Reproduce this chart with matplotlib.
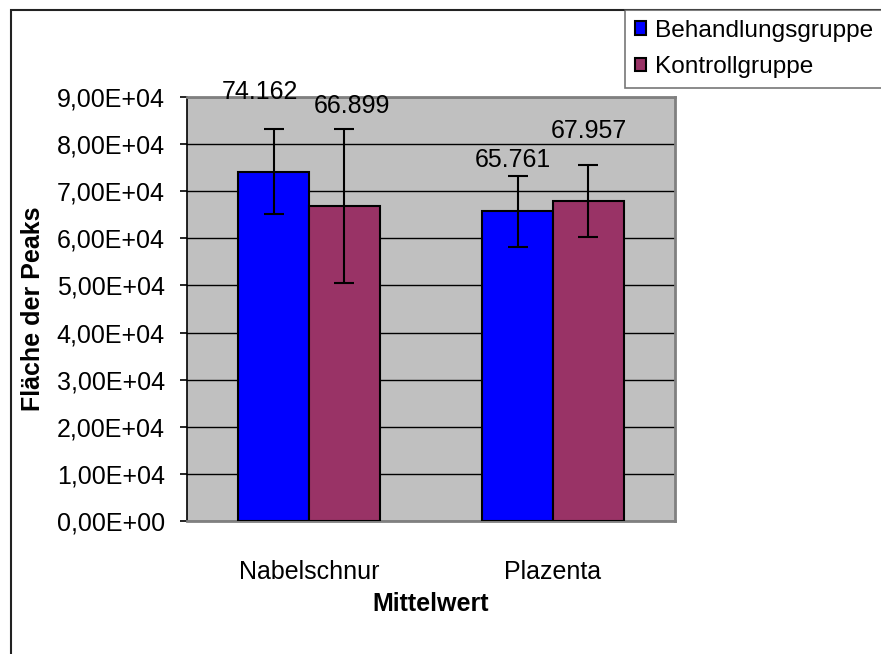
import matplotlib
matplotlib.use("Agg")
import matplotlib.pyplot as plt
import matplotlib.patches as mpatches
from matplotlib.ticker import FuncFormatter, MultipleLocator
import numpy as np

categories = ["Nabelschnur", "Plazenta"]
series_names = ["Behandlungsgruppe", "Kontrollgruppe"]
behandlung = [74162, 65761]
kontroll = [66899, 67957]
behandlung_err = [9100, 7500]
kontroll_err = [16300, 7700]
value_labels_b = ["74.162", "65.761"]
value_labels_k = ["66.899", "67.957"]

colors = ["#0000FF", "#993366"]
FS = 18
plt.rcParams['font.family'] = ['Liberation Sans', 'DejaVu Sans']

W, H = 881, 654
fig = plt.figure(figsize=(W / 100, H / 100), dpi=100)

# outer frame (extends past the right and bottom edges)
fig.patches.append(mpatches.Rectangle((10.5 / W, -0.1), 2, 1 - 10.5 / H + 0.1,
                                      transform=fig.transFigure, fill=False,
                                      edgecolor="#222222", lw=1.5, zorder=0))

ax = fig.add_axes([187 / W, 1 - 521 / H, 488 / W, 424 / H])
ax.set_facecolor("#C0C0C0")

x = np.arange(len(categories))
bw = 0.289
err_kw = dict(ecolor="black", elinewidth=1.5, capsize=7, capthick=1.5)
b1 = ax.bar(x - bw / 2, behandlung, bw, yerr=behandlung_err, color=colors[0],
            edgecolor="black", linewidth=1.5, label=series_names[0], zorder=3,
            error_kw=err_kw)
b2 = ax.bar(x + bw / 2, kontroll, bw, yerr=kontroll_err, color=colors[1],
            edgecolor="black", linewidth=1.5, label=series_names[1], zorder=3,
            error_kw=err_kw)

# data labels (pixel offsets from bar top)
offs_b = [(-13.5, 80), (-5, 51)]
offs_k = [(7.7, 100), (1, 70)]
for i in range(len(categories)):
    ax.annotate(value_labels_b[i], (x[i] - bw / 2, behandlung[i]),
                xytext=(offs_b[i][0] * 0.72, offs_b[i][1] * 0.72),
                textcoords="offset points", ha="center", va="center",
                fontsize=FS, zorder=5, annotation_clip=False)
    ax.annotate(value_labels_k[i], (x[i] + bw / 2, kontroll[i]),
                xytext=(offs_k[i][0] * 0.72, offs_k[i][1] * 0.72),
                textcoords="offset points", ha="center", va="center",
                fontsize=FS, zorder=5, annotation_clip=False)

ax.set_xlim(-0.5, 1.5)
ax.set_ylim(0, 90000)
ax.yaxis.set_major_locator(MultipleLocator(10000))
ax.yaxis.set_major_formatter(FuncFormatter(
    lambda v, p: ("%.2E" % v).replace(".", ",")))
ax.grid(axis="y", color="black", linewidth=1.0, zorder=1)
ax.set_axisbelow(True)

for s in ["top", "right", "bottom"]:
    ax.spines[s].set_color("#808080")
    ax.spines[s].set_linewidth(2)
ax.spines["left"].set_color("black")
ax.spines["left"].set_linewidth(1.2)

ax.set_xticks(x)
ax.set_xticklabels(categories, fontsize=FS)
ax.tick_params(axis="x", length=0, pad=28)
ax.tick_params(axis="y", direction="out", length=5, width=1.2, labelsize=FS, pad=11)

ax.set_xlabel("Mittelwert", fontsize=FS, fontweight="bold", labelpad=6)
ax.set_ylabel("Fläche der Peaks", fontsize=FS, fontweight="bold")
ax.yaxis.set_label_coords(-(187 - 45) / 488, 0.5)

leg = fig.legend(handles=[b1, b2], labels=series_names, loc="upper left",
                 bbox_to_anchor=(625 / W, 1 - 10 / H), fontsize=17.6,
                 frameon=True, fancybox=False, handlelength=0.45,
                 handleheight=0.45, handletextpad=0.38, borderpad=0.4,
                 labelspacing=0.6, borderaxespad=0)
leg.get_frame().set_edgecolor("#555555")
leg.get_frame().set_linewidth(1.2)

fig.savefig("out.png", dpi=100)
